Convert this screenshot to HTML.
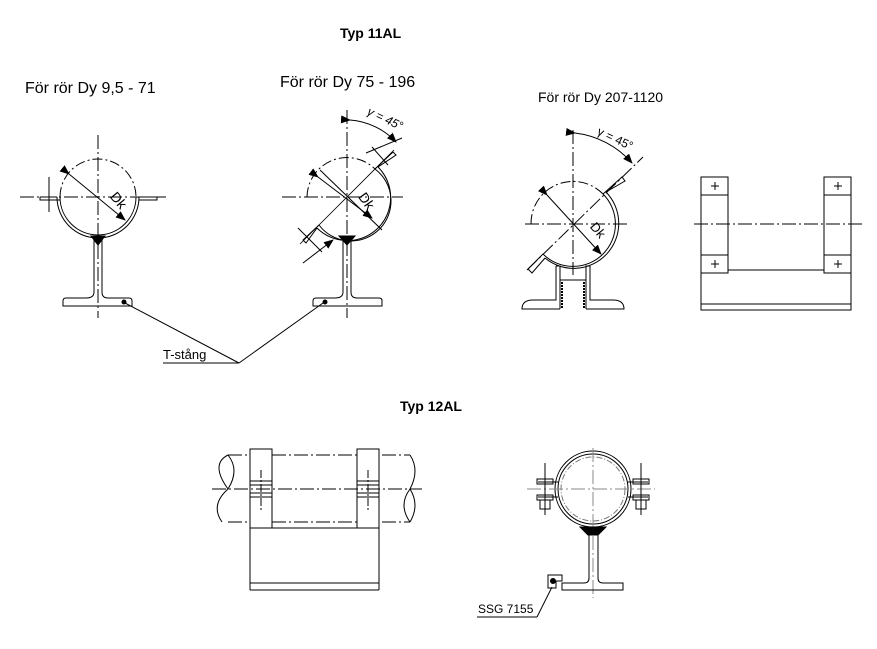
<!DOCTYPE html>
<html><head><meta charset="utf-8"><style>
html,body{margin:0;padding:0;background:#fff}
svg{display:block}
text{font-family:"Liberation Sans",Arial,sans-serif;fill:#000}
</style></head><body>
<svg width="877" height="649" viewBox="0 0 877 649" xmlns="http://www.w3.org/2000/svg">
<defs>
<marker id="ar" markerWidth="10" markerHeight="8" refX="9" refY="4" orient="auto" markerUnits="userSpaceOnUse"><path d="M0,0 L10,4 L0,8z" fill="#000"/></marker>
</defs>
<g fill="none" stroke="#000" stroke-width="1">
<!-- titles -->
</g>
<text x="340" y="38" font-size="14" font-weight="bold">Typ 11AL</text>
<text x="25" y="93" font-size="16">För rör Dy 9,5 - 71</text>
<text x="280" y="87" font-size="16">För rör Dy 75 - 196</text>
<text x="538" y="102" font-size="14">För rör Dy 207-1120</text>
<text x="400" y="411" font-size="14" font-weight="bold">Typ 12AL</text>
<text x="163" y="359" font-size="13">T-stång</text>
<text x="478" y="613" font-size="12">SSG 7155</text>

<g fill="none" stroke="#000" stroke-width="1">
<!-- FIG 1 -->
<line x1="98" y1="135" x2="98" y2="318" stroke-dasharray="14,3,2,3"/>
<line x1="20" y1="197" x2="166" y2="197" stroke-dasharray="14,3,2,3"/>
<path d="M60,197 A38,38 0 0 1 136,197" stroke-dasharray="10,3,2,3"/>
<path d="M60,197 A38,38 0 0 0 136,197"/>
<path d="M57,197 A41,41 0 0 0 139,197"/>
<path d="M40,197 H57 M40,197 V200 H60 M139,200 H157 V197 H139"/>
<line x1="49" y1="177" x2="49" y2="212"/>
<line x1="69" y1="174" x2="125" y2="220" marker-end="url(#ar)" marker-start="url(#ar)"/>
<path d="M94,238 V292 Q94,298 86,298 H66 Q63,298 63,301 V306 H132 V301 Q132,298 129,298 H108 Q102,298 102,292 V238"/>
<path d="M91,236 L98,245 L105,236 Z" fill="#000"/>
<circle cx="124" cy="302" r="2" fill="#000"/>
<text x="108" y="200" font-size="14" transform="rotate(50 112 200)" stroke="none" fill="#000">Dk</text>

<!-- FIG 2 -->
<line x1="347" y1="110" x2="347" y2="318" stroke-dasharray="14,3,2,3"/>
<line x1="282" y1="197" x2="403" y2="197" stroke-dasharray="14,3,2,3"/>
<path d="M307,197 A40,40 0 0 1 375,169" stroke-dasharray="10,3,2,3"/>
<path d="M375,169 A40,40 0 1 1 319,225"/>
<path d="M378,167 A43,43 0 1 1 317,228"/>
<path d="M375,169 L393,152 L396,155 L378,167"/>
<path d="M319,225 L303,240 L306,243 L317,228"/>
<line x1="320" y1="170" x2="382" y2="230" />
<line x1="300" y1="244" x2="394" y2="150" stroke-width="0.8"/>
<line x1="366" y1="153" x2="402" y2="138"/>
<line x1="372" y1="147" x2="388" y2="165"/>
<line x1="298" y1="228" x2="322" y2="252"/>
<line x1="303" y1="263" x2="333" y2="240" marker-end="url(#ar)"/>
<line x1="318" y1="177" x2="372" y2="218" marker-start="url(#ar)" marker-end="url(#ar)"/>
<path d="M350,120 A70,70 0 0 1 396,142" marker-start="url(#ar)" marker-end="url(#ar)"/>
<path d="M343,238 V292 Q343,298 335,298 H316 Q313,298 313,301 V306 H382 V301 Q382,298 379,298 H357 Q351,298 351,292 V238"/>
<path d="M339,236 L347,245 L355,236 Z" fill="#000"/>
<circle cx="325" cy="302" r="2" fill="#000"/>
<text x="356" y="200" font-size="14" transform="rotate(55 360 200)" stroke="none" fill="#000">Dk</text>
<text x="366" y="116" font-size="12" transform="rotate(25 370 116)" stroke="none" fill="#000" font-style="italic">γ = 45°</text>

<!-- leader lines -->
<line x1="125" y1="303" x2="239" y2="363"/>
<line x1="323" y1="303" x2="239" y2="363"/>
<line x1="163" y1="363" x2="239" y2="363"/>

<!-- FIG 3 -->
<line x1="573" y1="130" x2="573" y2="275" stroke-dasharray="14,3,2,3"/>
<line x1="525" y1="224" x2="627" y2="224" stroke-dasharray="14,3,2,3"/>
<path d="M531,224 A42,42 0 0 1 603,194" stroke-dasharray="10,3,2,3"/>
<path d="M603,194 A42,42 0 0 1 543,254" />
<path d="M606,192 A45,45 0 0 1 545,258"/>
<path d="M603,194 L622,177 L625,181 L606,192"/>
<path d="M543,254 L528,269 L532,273 L545,258"/>
<line x1="527" y1="270" x2="643" y2="157" stroke-dasharray="14,3,2,3"/>
<line x1="547" y1="195" x2="601" y2="254" marker-start="url(#ar)" marker-end="url(#ar)"/>
<path d="M575,133 A90,90 0 0 1 632,163" marker-start="url(#ar)" marker-end="url(#ar)"/>
<text x="588" y="230" font-size="13" transform="rotate(50 592 230)" stroke="none" fill="#000">Dk</text>
<text x="596" y="136" font-size="12" transform="rotate(25 600 136)" stroke="none" fill="#000">γ = 45°</text>
<path d="M556,266 V300 H533 Q522,300 522,309 H560 M556,266 H560 V309"/>
<path d="M590,266 V300 H613 Q624,300 624,309 H586 M590,266 H586 V309"/>
<line x1="560" y1="280" x2="586" y2="280"/>
<path d="M562,282 V308 M584,282 V308" stroke-dasharray="2,1" stroke-width="2"/>

<!-- FIG 4 -->
<rect x="701" y="177" width="27" height="96"/>
<rect x="824" y="177" width="27" height="96"/>
<line x1="701" y1="195" x2="728" y2="195"/><line x1="824" y1="195" x2="851" y2="195"/>
<line x1="701" y1="255" x2="728" y2="255"/><line x1="824" y1="255" x2="851" y2="255"/>
<path d="M711,186 h8 M715,182 v8 M834,186 h8 M838,182 v8 M711,264 h8 M715,260 v8 M834,264 h8 M838,260 v8"/>
<line x1="728" y1="270" x2="824" y2="270"/>
<path d="M701,273 V310 H851 V273"/>
<line x1="701" y1="304" x2="851" y2="304"/>
<line x1="694" y1="224" x2="862" y2="224" stroke-dasharray="14,3,2,3"/>

<!-- FIG 5 -->
<line x1="228" y1="455" x2="410" y2="455" stroke-dasharray="14,3,2,3"/>
<line x1="228" y1="522" x2="410" y2="522" stroke-dasharray="14,3,2,3"/>
<line x1="212" y1="489" x2="422" y2="489" stroke-dasharray="14,3,2,3"/>
<path d="M228,455 Q210,464 228,489 Q210,505 222,522"/>
<path d="M228,455 Q240,470 228,489"/>
<path d="M410,455 Q420,470 410,489 Q420,505 410,522"/>
<path d="M410,489 Q398,505 410,522"/>
<rect x="250" y="449" width="22" height="79" fill="#fff"/>
<rect x="357" y="449" width="22" height="79" fill="#fff"/>
<path d="M250,481 H272 M250,485 H272 M250,493 H272 M250,497 H272 M357,481 H379 M357,485 H379 M357,493 H379 M357,497 H379"/>
<line x1="212" y1="489" x2="422" y2="489" stroke-dasharray="14,3,2,3"/>
<path d="M261,470 V510 M368,470 V510" stroke-dasharray="8,2,2,2"/>
<path d="M250,528 V590 M379,528 V590 M272,528 H357"/>
<line x1="250" y1="583" x2="379" y2="583"/>
<line x1="250" y1="590" x2="379" y2="590"/>

<!-- FIG 6 -->
<circle cx="593" cy="489" r="38"/>
<circle cx="593" cy="489" r="35"/>
<circle cx="593" cy="489" r="32" stroke-dasharray="6,2,1,2" stroke="#777"/>
<line x1="593" y1="448" x2="593" y2="598" stroke="#888" stroke-dasharray="14,3,2,3"/>
<line x1="527" y1="489" x2="655" y2="489" stroke="#888" stroke-dasharray="14,3,2,3"/>
<path d="M538,482 H558 M538,497 H558 M628,482 H648 M628,497 H648"/>
<rect x="537" y="479" width="16" height="5"/><rect x="537" y="495" width="16" height="5"/>
<rect x="633" y="479" width="16" height="5"/><rect x="633" y="495" width="16" height="5"/>
<rect x="540" y="500" width="10" height="9"/><rect x="636" y="500" width="10" height="9"/>
<path d="M545,463 V515 M641,463 V515"/>
<path d="M580,527 H606 L598,535 H588 Z" fill="#000"/>
<path d="M589,535 V578 Q589,583 584,583 H562 V590 H623 V583 H603 Q598,583 598,578 V535"/>
<path d="M548,575 H562 V581 H556 V588 H548 Z"/>
<circle cx="553" cy="581" r="2.5" fill="#000"/>
<line x1="552" y1="587" x2="537" y2="617"/>
<line x1="477" y1="617" x2="537" y2="617"/>
</g>
</svg>
</body></html>
